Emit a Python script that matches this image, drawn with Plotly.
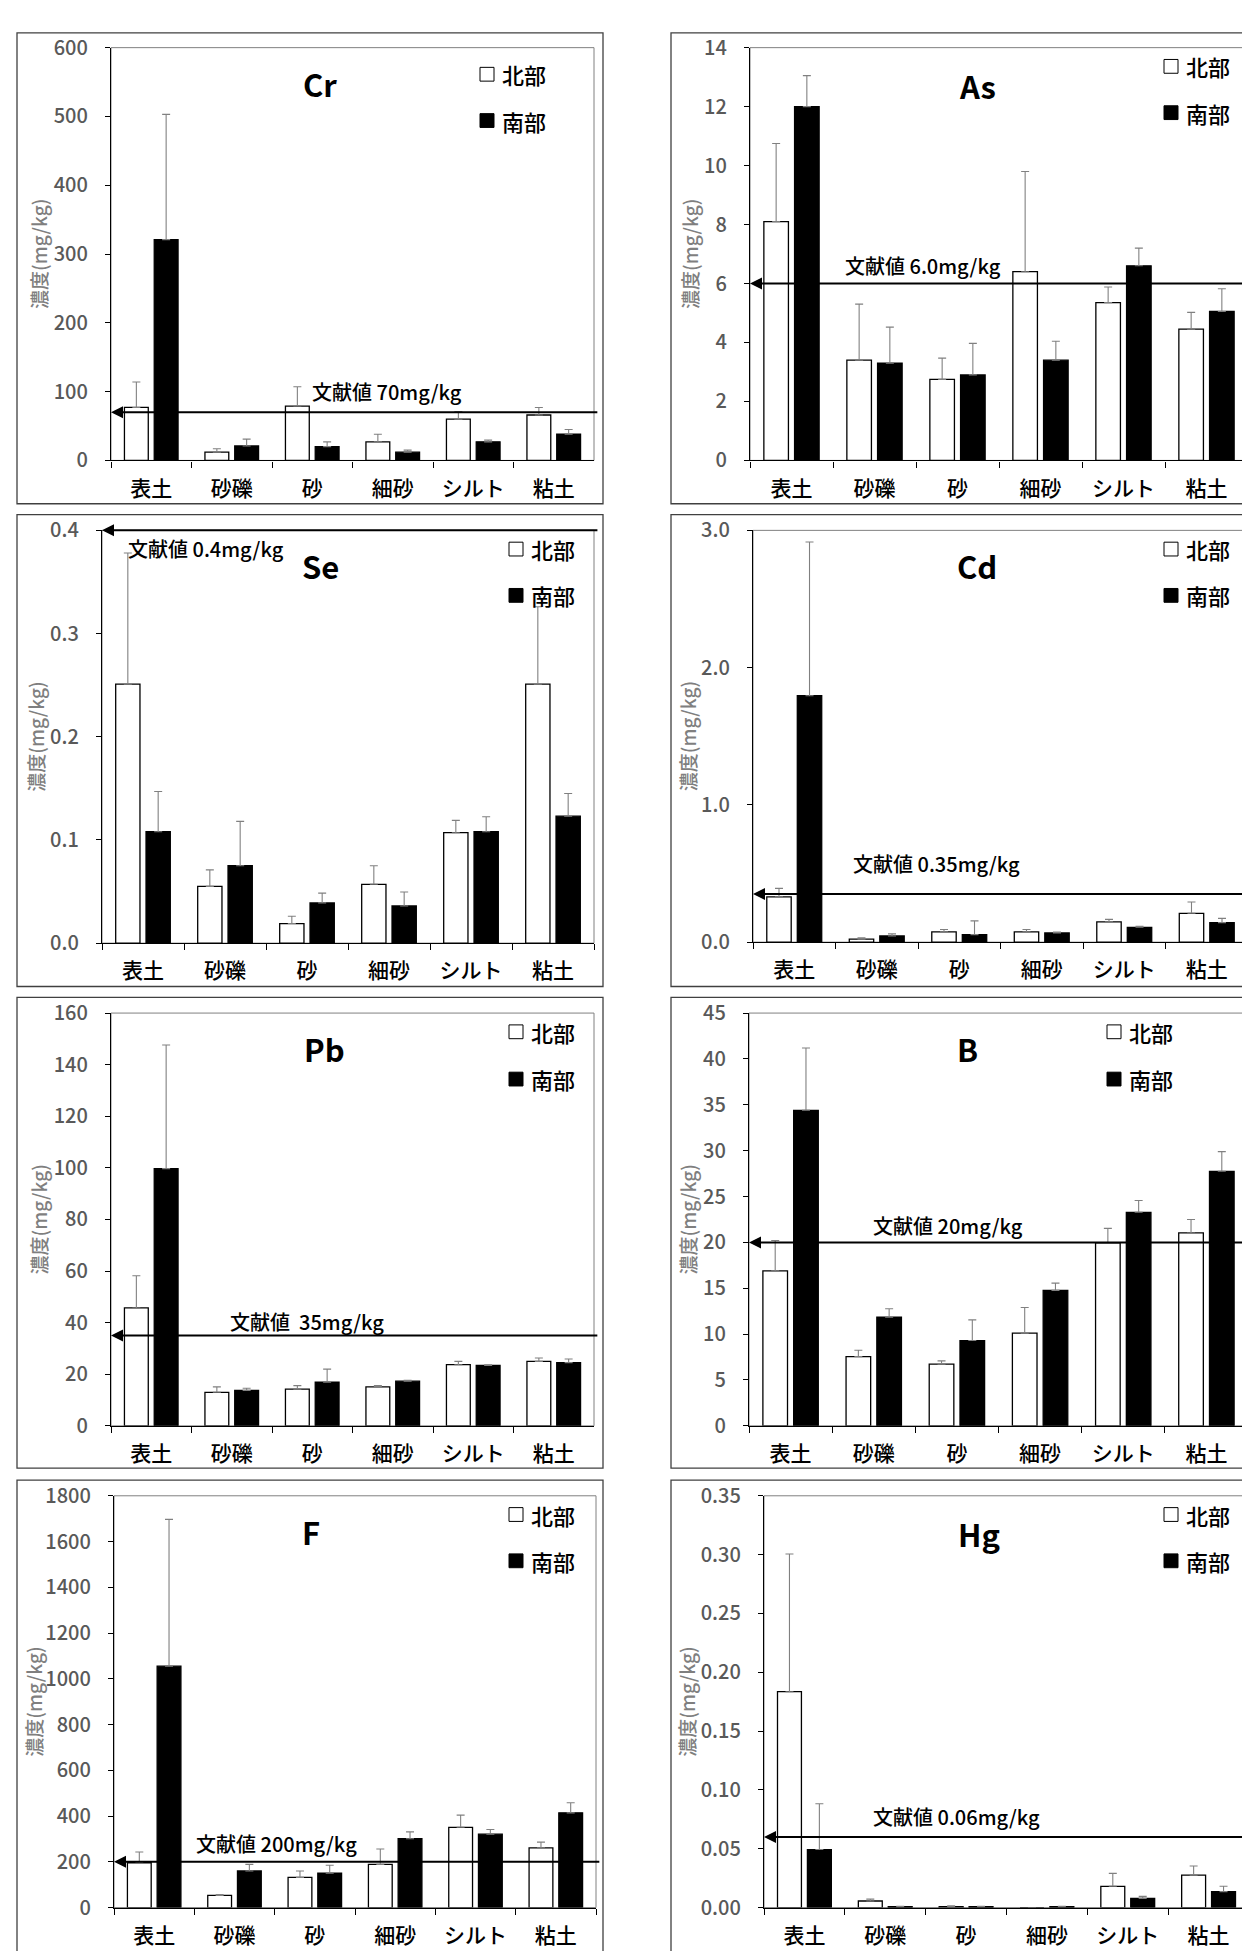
import plotly.graph_objects as go

W, H = 1250, 1951
FONT = "Noto Sans CJK JP"

# ---------------- data ----------------
categories = ['表土', '砂礫', '砂', '細砂', 'シルト', '粘土']
series_names = ['北部', '南部']

cr_north = [77, 12, 79, 27, 60, 66]
cr_north_err = [37, 5, 28, 11, 11, 11]
cr_south = [321, 21, 20, 12, 27, 38]
cr_south_err = [182, 10, 7, 3, 2.5, 7]

as_north = [8.1, 3.4, 2.75, 6.4, 5.35, 4.45]
as_north_err = [2.65, 1.9, 0.72, 3.4, 0.53, 0.57]
as_south = [12.0, 3.3, 2.9, 3.4, 6.6, 5.05]
as_south_err = [1.05, 1.22, 1.07, 0.64, 0.6, 0.77]

se_north = [0.251, 0.055, 0.019, 0.057, 0.107, 0.251]
se_north_err = [0.127, 0.016, 0.007, 0.018, 0.012, 0.075]
se_south = [0.108, 0.075, 0.039, 0.036, 0.108, 0.123]
se_south_err = [0.039, 0.043, 0.0095, 0.0135, 0.0145, 0.022]

cd_north = [0.33, 0.022, 0.075, 0.075, 0.148, 0.21]
cd_north_err = [0.062, 0.01, 0.017, 0.017, 0.018, 0.082]
cd_south = [1.795, 0.045, 0.055, 0.067, 0.108, 0.142]
cd_south_err = [1.12, 0.015, 0.1, 0.006, 0.008, 0.031]

pb_north = [45.7, 13.0, 14.2, 15.1, 23.7, 25.0]
pb_north_err = [12.5, 2.1, 1.4, 0.5, 1.3, 1.3]
pb_south = [99.7, 13.7, 16.9, 17.3, 23.4, 24.5]
pb_south_err = [47.9, 0.9, 5.1, 0.4, 0.3, 1.4]

b_north = [16.9, 7.55, 6.72, 10.1, 19.96, 21.03]
b_north_err = [3.3, 0.7, 0.36, 2.8, 1.57, 1.47]
b_south = [34.4, 11.84, 9.3, 14.77, 23.28, 27.75]
b_south_err = [6.8, 0.93, 2.25, 0.79, 1.29, 2.15]

f_north = [196, 53, 132, 189, 351, 261]
f_north_err = [47, 4, 28, 67, 53, 25]
f_south = [1055, 160, 150, 301, 321, 414]
f_south_err = [642, 29, 35, 30, 20, 44]

hg_north = [0.1835, 0.0056, 0.0008, 0.0, 0.0181, 0.0276]
hg_north_err = [0.117, 0.0016, 0.0008, 0.0, 0.011, 0.0078]
hg_south = [0.0493, 0.0008, 0.0008, 0.0008, 0.0078, 0.0136]
hg_south_err = [0.039, 0.0002, 0.0002, 0.0002, 0.0017, 0.0045]

elements = ['Cr', 'As', 'Se', 'Cd', 'Pb', 'B', 'F', 'Hg']
reference_values = [70, 6.0, 0.4, 0.35, 35, 20, 200, 0.06]
reference_labels = ['文献値 70mg/kg', '文献値 6.0mg/kg', '文献値 0.4mg/kg', '文献値 0.35mg/kg',
                    '文献値  35mg/kg', '文献値 20mg/kg', '文献値 200mg/kg', '文献値 0.06mg/kg']
y_max = [600, 14, 0.4, 3.0, 160, 45, 1800, 0.35]
y_dtick = [100, 2, 0.1, 1.0, 20, 5, 200, 0.05]
y_format = ['d', 'd', '.1f', '.1f', 'd', 'd', 'd', '.2f']
y_title = '濃度(mg/kg)'

north_data = [cr_north, as_north, se_north, cd_north, pb_north, b_north, f_north, hg_north]
north_errs = [cr_north_err, as_north_err, se_north_err, cd_north_err, pb_north_err, b_north_err, f_north_err, hg_north_err]
south_data = [cr_south, as_south, se_south, cd_south, pb_south, b_south, f_south, hg_south]
south_errs = [cr_south_err, as_south_err, se_south_err, cd_south_err, pb_south_err, b_south_err, f_south_err, hg_south_err]

# ---------------- layout (pixel geometry) ----------------
# plot areas: (x0, x1, ytop, ybottom) in page pixels
plot_px = [(103, 586, 24, 443), (742, 1240, 24, 443),
           (94, 586, 514, 933), (745, 1240, 514, 932),
           (103, 586, 1004, 1423), (741, 1240, 1004, 1423),
           (106, 588, 1494, 1912), (756, 1241, 1494, 1912)]
box_px = [(9, 595, 9, 487), (663, 1249, 9, 487),
          (9, 595, 498, 977), (663, 1249, 498, 977),
          (9, 595, 988, 1466), (663, 1249, 988, 1466),
          (9, 595, 1478, 1960), (663, 1249, 1478, 1960)]
title_px = [(312, 60), (969, 62), (312, 550), (969, 550),
            (316, 1040), (959, 1040), (303, 1530), (971, 1532)]
reflabel_px = [(302, 373), (835, 245), (118, 532), (843, 852),
               (220, 1317), (863, 1220), (186, 1847), (863, 1820)]
legend_px = [(472, 51, 98), (1156, 43, 90), (501, 533, 580), (1156, 533, 580),
             (501, 1023, 1071), (1099, 1023, 1071), (501, 1513, 1560), (1156, 1513, 1560)]
ytitle_x_px = [30, 681, 28, 679, 30, 679, 26, 679]


def px(x):
    return x / W


def py(y):
    return 1 - y / H


fig = go.Figure()
layout = dict(
    width=W, height=H, margin=dict(l=0, r=0, t=0, b=0),
    paper_bgcolor='white', plot_bgcolor='white',
    font=dict(family=FONT, color='black'),
    barmode='group', bargap=0.26, bargroupgap=0.2, showlegend=False,
)
shapes = []
annotations = []

for i in range(8):
    n = i + 1
    xa = 'x' if n == 1 else f'x{n}'
    ya = 'y' if n == 1 else f'y{n}'
    fig.add_trace(go.Bar(
        x=categories, y=north_data[i], name=series_names[0], xaxis=xa, yaxis=ya,
        marker=dict(color='white', line=dict(color='black', width=1.3)),
        error_y=dict(type='data', symmetric=False, array=north_errs[i], arrayminus=[0] * 6,
                     color='#808080', thickness=1.1, width=4),
    ))
    fig.add_trace(go.Bar(
        x=categories, y=south_data[i], name=series_names[1], xaxis=xa, yaxis=ya,
        marker=dict(color='black', line=dict(color='black', width=1.3)),
        error_y=dict(type='data', symmetric=False, array=south_errs[i], arrayminus=[0] * 6,
                     color='#808080', thickness=1.1, width=4),
    ))
    x0, x1, yt, yb = plot_px[i]
    layout['xaxis' if n == 1 else f'xaxis{n}'] = dict(
        domain=[px(x0), px(x1)], anchor=ya, type='category',
        categoryorder='array', categoryarray=categories,
        showline=True, linecolor='black', linewidth=1.3,
        ticks='outside', tickson='boundaries', ticklen=6, tickcolor='black',
        ticklabelstandoff=9,
        tickfont=dict(size=21, color='black', family=FONT, weight=500),
        showgrid=False, zeroline=False, fixedrange=True,
    )
    layout['yaxis' if n == 1 else f'yaxis{n}'] = dict(
        domain=[py(yb), py(yt)], anchor=xa, range=[0, y_max[i]],
        dtick=y_dtick[i], tick0=0, tickformat=y_format[i],
        showline=True, linecolor='black', linewidth=1.3,
        ticks='outside', ticklen=5, tickcolor='black',
        ticklabelstandoff=13,
        tickfont=dict(size=20, color='#595959', family=FONT, weight=500),
        showgrid=False, zeroline=False, fixedrange=True,
    )
    # plot-area frame (top/right)
    shapes.append(dict(type='rect', xref=f'{xa} domain', yref=f'{ya} domain',
                       x0=0, x1=1, y0=0, y1=1, layer='below',
                       line=dict(color='#808080', width=1)))
    # panel border
    bx0, bx1, by0, by1 = box_px[i]
    shapes.append(dict(type='rect', xref='paper', yref='paper',
                       x0=px(bx0), x1=px(bx1), y0=py(by1), y1=py(by0),
                       line=dict(color='#404040', width=1.3)))
    # element title
    tx, ty = title_px[i]
    annotations.append(dict(text=f'<b>{elements[i]}</b>', xref='paper', yref='paper',
                            x=px(tx), y=py(ty), xanchor='center', yanchor='middle',
                            showarrow=False, font=dict(size=31, family=FONT, color='black')))
    # reference arrow line
    annotations.append(dict(text='', xref=f'{xa} domain', yref=ya, x=0, y=reference_values[i],
                            axref=f'{xa} domain', ayref=ya, ax=1.01, ay=reference_values[i],
                            showarrow=True, arrowhead=2, arrowsize=1.2, arrowwidth=2,
                            arrowcolor='black', standoff=0, startstandoff=0))
    rx, ry = reflabel_px[i]
    annotations.append(dict(text=reference_labels[i], xref='paper', yref='paper',
                            x=px(rx), y=py(ry), xanchor='left', yanchor='middle',
                            showarrow=False, font=dict(size=20, family=FONT, color='black', weight=500)))
    # legend
    lx, l1, l2 = legend_px[i]
    for row_y, fill, label in [(l1, 'white', series_names[0]), (l2, 'black', series_names[1])]:
        shapes.append(dict(type='rect', xref='paper', yref='paper',
                           x0=px(lx), x1=px(lx + 14), y0=py(row_y + 7), y1=py(row_y - 7),
                           fillcolor=fill, line=dict(color='black', width=1)))
        annotations.append(dict(text=label, xref='paper', yref='paper',
                                x=px(lx + 20), y=py(row_y), xanchor='left', yanchor='middle',
                                showarrow=False, font=dict(size=22, family=FONT, color='black', weight=500)))
    # y-axis title
    annotations.append(dict(text=y_title, xref='paper', yref='paper',
                            x=px(ytitle_x_px[i]), y=py((yt + yb) / 2), textangle=-90,
                            xanchor='center', yanchor='middle', showarrow=False,
                            font=dict(size=19, family=FONT, color='#7f7f7f', weight=500)))

layout['shapes'] = shapes
layout['annotations'] = annotations
fig.update_layout(**layout)
fig.write_html('out.html')
